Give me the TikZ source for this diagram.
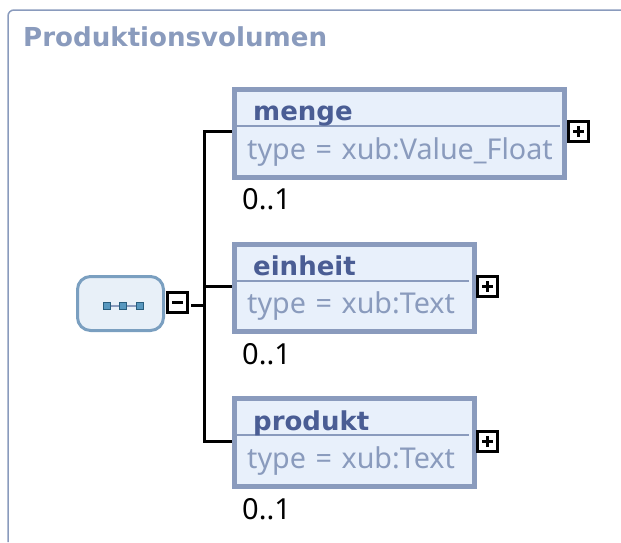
\documentclass[tikz,border=0pt]{standalone}
\usepackage{fontspec}
\setmainfont{Noto Sans}
\newfontfamily\namefont{DejaVu Sans}
\usetikzlibrary{calc}
\definecolor{framecol}{HTML}{8A9BBD}
\definecolor{boxfill}{HTML}{E8F0FB}
\definecolor{namecol}{HTML}{4A5D94}
\definecolor{typecol}{HTML}{8A9BBD}
\definecolor{groupfill}{HTML}{E8F0F8}
\definecolor{groupedge}{HTML}{7A9FC0}
\definecolor{dotcol}{HTML}{3A86B4}
\tikzset{
	elembox/.style={draw=framecol,fill=boxfill,line width=5pt,inner sep=0pt},
	divider/.style={framecol,line width=1.8pt},
	elemname/.style={anchor=base west,inner sep=0pt,text=namecol,font=\namefont\fontsize{26}{26}\selectfont\bfseries},
	elemtype/.style={anchor=base west,inner sep=0pt,text=typecol,font=\fontsize{28.7}{29}\selectfont},
	occurs/.style={anchor=base west,inner sep=0pt,text=black,font=\fontsize{29}{29}\selectfont},
	toggle/.style={draw=black,fill=white,line width=3pt,inner sep=0pt,minimum size=20pt},
	plusbox/.style={toggle,path picture={
		\draw[black,line width=2.5pt] ([xshift=-5.5pt]path picture bounding box.center) -- ([xshift=5.5pt]path picture bounding box.center);
		\draw[black,line width=2.5pt] ([yshift=-5.5pt]path picture bounding box.center) -- ([yshift=5.5pt]path picture bounding box.center);
	}},
	minusbox/.style={toggle,path picture={
		\draw[black,line width=2.5pt] ([xshift=-5.5pt]path picture bounding box.center) -- ([xshift=5.5pt]path picture bounding box.center);
	}},
	seqdot/.style={draw=dotcol!70!black,fill=dotcol!85!white,line width=1pt,inner sep=0pt,minimum size=7.5pt},
	wire/.style={black,line width=3pt},
}
\begin{document}
\begin{tikzpicture}[x=1pt,y=-1pt]
	\useasboundingbox (0,0) rectangle (621,542);

	\draw[framecol,line width=1.5pt,rounded corners=6pt] (8,542) -- (8,10) -- (621,10);
	\node[anchor=base west,inner sep=0pt,text=framecol,font=\namefont\fontsize{26.1}{27}\selectfont\bfseries] (title) at (23,46) {Produktionsvolumen};

	% sequence group
	\node[draw=groupedge,fill=groupfill,line width=3pt,rounded corners=13pt,inner sep=0pt,minimum width=86pt,minimum height=54pt] (group) at (120.5,303.5) {};
	\node[seqdot] (dota) at (107,306) {};
	\node[seqdot] (dotb) at (123,306) {};
	\node[seqdot] (dotc) at (140,306) {};
	\draw[framecol,line width=2.5pt] (dota) -- (dotb);
	\draw[framecol,line width=2.5pt] (dotb) -- (dotc);
	\node[minusbox] (collapse) at (177.5,302.5) {};

	% elements
	\node[elembox,minimum width=330pt,minimum height=88pt] (menge) at (399.5,133.5) {};
	\node[elembox,minimum width=240pt,minimum height=87pt] (einheit) at (354,288) {};
	\node[elembox,minimum width=240pt,minimum height=88pt] (produkt) at (354,442.5) {};

	\draw[divider] (237,126) -- (560,126);
	\draw[divider] (237,281) -- (469,281);
	\draw[divider] (237,435) -- (469,435);

	\node[elemname] (mengename) at (253,120) {menge};
	\node[elemtype] (mengetype) at (247,159) {type\,\,=\,\,xub:Value\_Float};
	\node[occurs] (mengeoccurs) at (242,209) {0..1};

	\node[elemname] (einheitname) at (253,275) {einheit};
	\node[elemtype] (einheittype) at (247,313) {type\,\,=\,\,xub:Text};
	\node[occurs] (einheitoccurs) at (242,364) {0..1};

	\node[elemname] (produktname) at (253,430) {produkt};
	\node[elemtype] (produkttype) at (247,468) {type\,\,=\,\,xub:Text};
	\node[occurs] (produktoccurs) at (242,519) {0..1};

	\node[plusbox] (mengeplus) at (578.5,131.5) {};
	\node[plusbox] (einheitplus) at (487.5,286.5) {};
	\node[plusbox] (produktplus) at (487.5,441.5) {};

	% wires
	\coordinate (trunk) at (204,305);
	\draw[wire,shorten <=2pt] (collapse.east |- trunk) -- (trunk);
	\draw[wire] (trunk) |- ([yshift=2.5pt]menge.west);
	\draw[wire] (trunk) |- ([yshift=2pt]einheit.west);
	\draw[wire] (trunk) |- ([yshift=1.5pt]produkt.west);
\end{tikzpicture}
\end{document}
